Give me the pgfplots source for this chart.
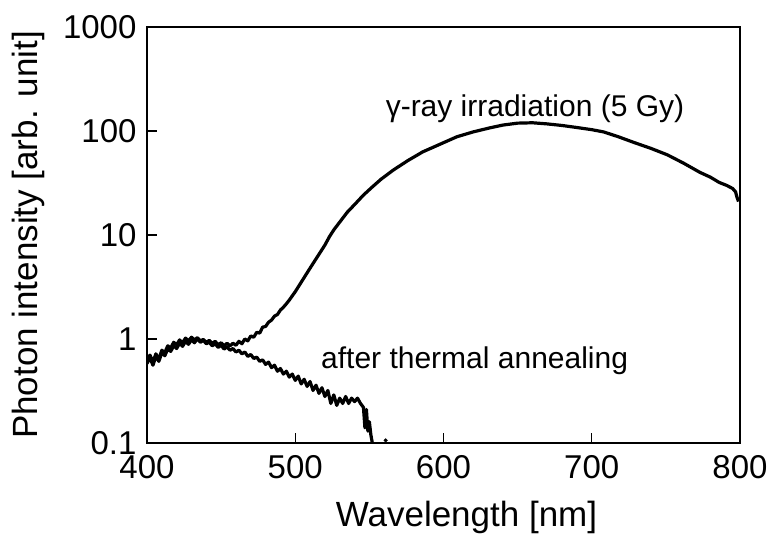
\documentclass[border=0pt]{standalone}
\usepackage{pgfplots}
\pgfplotsset{compat=1.18}
\usepackage{fontspec}
\setmainfont{Liberation Sans}
\begin{document}
\begin{tikzpicture}
\begin{axis}[
  scale only axis,
  width=593pt, height=416pt,
  xmin=400, xmax=800,
  ymode=log, ymin=0.1, ymax=1000,
  xtick={400,500,600,700,800},
  ytick={0.1,1,10,100,1000},
  yticklabels={0.1,1,10,100,1000},
  xticklabels={400,500,600,700,800},
  minor ytick={},
  yminorticks=false,
  xtick pos=bottom, ytick pos=left,
  tick align=inside,
  major tick length=10pt,
  tick style={line width=1.2pt, black},
  axis line style={line width=2.8pt},
  /pgf/number format/assume math mode=true,
  ticklabel style={font=\fontsize{33}{38}\selectfont},
  xticklabel style={yshift=-9pt},
  yticklabel style={xshift=-7pt},
  xlabel={Wavelength [nm]},
  ylabel={Photon intensity [arb. unit]},
  label style={font=\fontsize{35}{40}\selectfont},
  xlabel style={at={([xshift=23pt]rel axis cs:0.5,0)}, anchor=center, yshift=-74pt},
  ylabel style={at={([xshift=-119pt]rel axis cs:0,0.5)}, anchor=center, rotate=0},
  clip=true,
]
% gamma-ray irradiated
\addplot[black, line width=3.2pt, line join=round] coordinates {
(400,0.62)(402,0.70)(404,0.60)(406,0.72)(408,0.64)(410,0.78)(412,0.74)(414,0.86)(416,0.82)(418,0.93)
(420,0.88)(422,0.98)(424,0.92)(426,1.02)(428,0.96)(430,1.04)(432,0.98)(434,1.03)(436,0.96)(438,0.99)
(440,0.93)(442,0.97)(444,0.91)(446,0.95)(448,0.88)(450,0.92)(452,0.86)(454,0.91)(456,0.86)(458,0.91)
(460,0.87)(462,0.95)(464,0.90)(466,1.00)(468,0.96)(470,1.07)(472,1.04)(474,1.16)(476,1.14)(478,1.30)
(480,1.32)(482,1.45)(484,1.52)(486,1.66)(488,1.72)(490,1.90)(492,2.02)(494,2.18)(496,2.37)(498,2.60)
(500,2.85)(505,3.7)(510,4.8)(515,6.2)(520,8.0)(523,9.6)(526,11.2)(530,13.3)(535,16.5)(541,20.3)
(546,24.2)(552,29)(558,34.5)(566,42)(576,52)(586,63)(598,75)(609,88)(620,98)(631,107)
(640,114)(650,119)(660,120)(670,117)(680,113)(690,108)(700,103)(708,98)(718,88)(728,78)
(740,68)(751,59)(762,49)(773,40)(780,36)(786,32)(791,30)(795,28)(797,26)(798,23)(799,21)
};
% after thermal annealing
\addplot[black, line width=3.2pt, line join=round] coordinates {
(400,0.58)(402,0.66)(404,0.56)(406,0.68)(408,0.61)(410,0.74)(412,0.69)(414,0.80)(416,0.76)(418,0.86)
(420,0.81)(422,0.91)(424,0.85)(426,0.95)(428,0.89)(430,0.98)(432,0.92)(434,1.01)(436,0.93)(438,0.97)
(440,0.90)(442,0.93)(444,0.86)(446,0.90)(448,0.83)(450,0.87)(452,0.80)(454,0.84)(456,0.78)(458,0.81)
(460,0.75)(462,0.78)(464,0.72)(466,0.75)(468,0.68)(470,0.71)(472,0.65)(474,0.67)(476,0.61)(478,0.63)
(480,0.57)(482,0.60)(484,0.53)(486,0.56)(488,0.49)(490,0.52)(492,0.46)(494,0.49)(496,0.43)(498,0.46)
(500,0.40)(502,0.44)(504,0.37)(506,0.41)(508,0.35)(510,0.39)(512,0.32)(514,0.36)(516,0.30)(518,0.34)
(520,0.28)(522,0.32)(524,0.24)(526,0.29)(528,0.23)(530,0.27)(532,0.24)(534,0.28)(536,0.24)(538,0.27)
(540,0.25)(542,0.27)(544,0.24)(546,0.22)(547,0.14)(548,0.21)(549,0.13)(550,0.16)(551,0.12)(552,0.10)
};
\addplot[only marks, mark=*, mark size=1.8pt, black] coordinates {(561,0.106)};
\node[anchor=base, font=\fontsize{30}{36}\selectfont] at (axis cs:661.7,139) {γ-ray irradiation (5 Gy)};
\node[anchor=base, font=\fontsize{30}{36}\selectfont] at (axis cs:621,0.526) {after thermal annealing};
\end{axis}
\pgfresetboundingbox
\path[use as bounding box] (-147pt,-100pt) rectangle (632pt,443pt);
\end{tikzpicture}
\end{document}
